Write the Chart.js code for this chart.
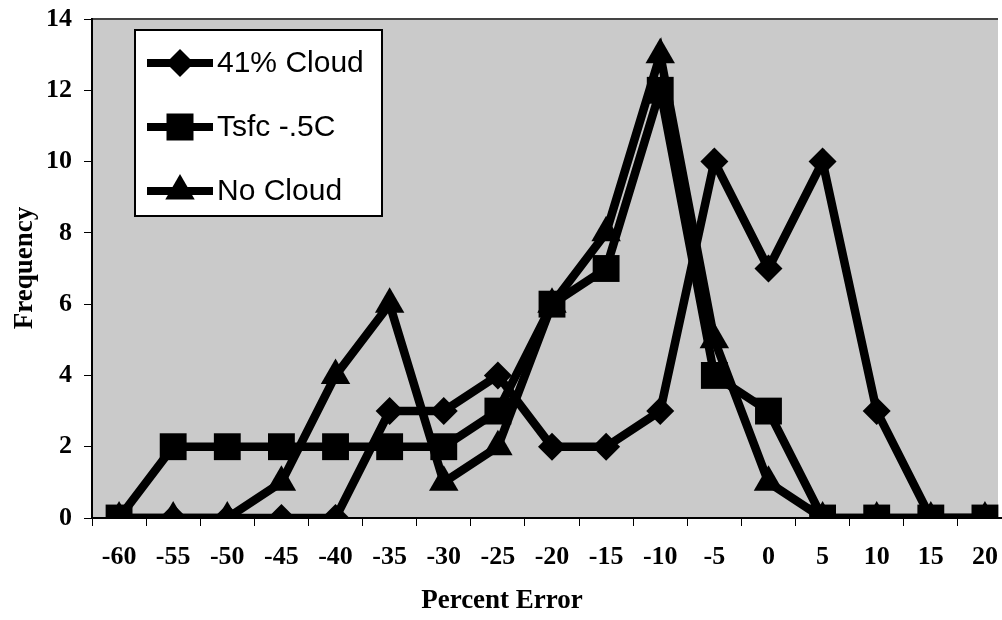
<!DOCTYPE html>
<html>
<head>
<meta charset="utf-8">
<script src="https://cdn.jsdelivr.net/npm/chart.js@4/dist/chart.umd.min.js"></script>
<style>
  html, body { margin: 0; padding: 0; background: #ffffff; overflow: hidden; }
  #wrap { width: 1002px; height: 620px; position: relative; }
  #c { display: block; }
</style>
</head>
<body>
<div id="wrap"><canvas id="c" width="1002" height="620"></canvas></div>
<script>
const categories = ['-60','-55','-50','-45','-40','-35','-30','-25','-20','-15','-10','-5','0','5','10','15','20'];
const cloud41   = [0, 0, 0, 0, 0, 3, 3, 4, 2, 2, 3, 10, 7, 10, 3, 0, 0];
const tsfc      = [0, 2, 2, 2, 2, 2, 2, 3, 6, 7, 12, 4, 3, 0, 0, 0, 0];
const noCloud   = [0, 0, 0, 1, 4, 6, 1, 2, 6, 8, 13, 5, 1, 0, 0, 0, 0];
const seriesNames = ['41% Cloud', 'Tsfc -.5C', 'No Cloud'];
const yTicks = [0, 2, 4, 6, 8, 10, 12, 14];
const xTitle = 'Percent Error';
const yTitle = 'Frequency';

const serif = '"Liberation Serif", "Times New Roman", serif';
const tickFont = { family: serif, size: 26, weight: 'bold' };

function drawMarker(ctx, style, x, y) {
  ctx.beginPath();
  if (style === 'rectRot') {
    const r = 14;
    ctx.moveTo(x, y - r); ctx.lineTo(x + r, y); ctx.lineTo(x, y + r); ctx.lineTo(x - r, y);
  } else if (style === 'rect') {
    const s = 13.5;
    ctx.rect(x - s, y - s, 2 * s, 2 * s);
  } else {
    const r = 17;
    ctx.moveTo(x, y - r);
    ctx.lineTo(x + r * Math.cos(Math.PI / 6), y + r * 0.5);
    ctx.lineTo(x - r * Math.cos(Math.PI / 6), y + r * 0.5);
  }
  ctx.closePath();
  ctx.fill();
}

// The original plot area runs past the right edge of the picture.
const areaPlugin = {
  id: 'areaPlugin',
  afterLayout(chart) {
    const a = chart.chartArea;
    a.left = 92; a.right = 1012; a.width = a.right - a.left;
    const x = chart.scales.x;
    x.left = 92; x.right = 1012; x.width = 920;
    x.configure();
  }
};

const bgPlugin = {
  id: 'bgPlugin',
  beforeDraw(chart) {
    const a = chart.chartArea;
    const ctx = chart.ctx;
    const r = Math.min(a.right, 998);
    ctx.save();
    ctx.fillStyle = '#cacaca';
    ctx.fillRect(a.left, a.top, r - a.left, a.bottom - a.top);
    ctx.strokeStyle = '#444444';
    ctx.lineWidth = 2;
    ctx.beginPath();
    ctx.moveTo(a.left, a.top);
    ctx.lineTo(r, a.top);
    ctx.stroke();
    ctx.restore();
  }
};

const titlesPlugin = {
  id: 'titles',
  afterDraw(chart) {
    const ctx = chart.ctx;
    ctx.save();
    ctx.fillStyle = '#000';
    ctx.font = 'bold 27px ' + serif;
    ctx.textAlign = 'center';
    ctx.textBaseline = 'middle';
    ctx.fillText(xTitle, 502, 601);
    ctx.translate(25, 268);
    ctx.rotate(-Math.PI / 2);
    ctx.fillText(yTitle, 0, 0);
    ctx.restore();
  }
};

const legendPlugin = {
  id: 'boxLegend',
  afterDatasetsDraw(chart) {
    const ctx = chart.ctx;
    ctx.save();
    ctx.fillStyle = '#ffffff';
    ctx.fillRect(135, 30, 247, 186);
    ctx.strokeStyle = '#000000';
    ctx.lineWidth = 2;
    ctx.strokeRect(135, 30, 247, 186);
    const ys = [63, 127, 191];
    chart.data.datasets.forEach((ds, i) => {
      const y = ys[i];
      ctx.strokeStyle = '#000';
      ctx.lineWidth = 8;
      ctx.beginPath();
      ctx.moveTo(147, y); ctx.lineTo(213, y);
      ctx.stroke();
      ctx.fillStyle = '#000';
      drawMarker(ctx, ds.pointStyle, 180, y);
      ctx.font = '30px "Liberation Sans", Arial, sans-serif';
      ctx.textBaseline = 'middle';
      ctx.textAlign = 'left';
      ctx.fillText(ds.label, 217, y + 1);
    });
    ctx.restore();
  }
};

function mkDataset(label, data, style, radius) {
  return {
    label: label,
    data: data,
    borderColor: '#000000',
    backgroundColor: '#000000',
    borderWidth: 8.5,
    pointStyle: style,
    pointRadius: radius,
    pointHoverRadius: radius,
    pointBorderWidth: 0,
    pointBackgroundColor: '#000000',
    tension: 0,
    fill: false
  };
}

new Chart(document.getElementById('c'), {
  type: 'line',
  data: {
    labels: categories,
    datasets: [
      mkDataset(seriesNames[0], cloud41, 'rectRot', 14),
      mkDataset(seriesNames[1], tsfc, 'rect', 19),
      mkDataset(seriesNames[2], noCloud, 'triangle', 17)
    ]
  },
  options: {
    responsive: false,
    maintainAspectRatio: false,
    animation: false,
    devicePixelRatio: 1,
    layout: { padding: { top: 17, right: 0, left: 0, bottom: 0 } },
    plugins: {
      legend: { display: false },
      tooltip: { enabled: false }
    },
    scales: {
      x: {
        type: 'category',
        offset: true,
        afterFit(scale) { scale.height = 102; scale.paddingLeft = 0; scale.paddingRight = 0; },
        grid: { display: true, drawOnChartArea: false, drawTicks: true, tickLength: 8, color: '#000', offset: true },
        border: { display: true, color: '#000', width: 2 },
        ticks: { color: '#000', font: tickFont, padding: 16, maxRotation: 0, autoSkip: false }
      },
      y: {
        min: 0,
        max: 14,
        afterFit(scale) { scale.width = 92; scale.paddingTop = 0; scale.paddingBottom = 0; },
        afterBuildTicks(scale) { scale.ticks = yTicks.map(v => ({ value: v })); },
        grid: { display: true, drawOnChartArea: false, drawTicks: true, tickLength: 8, color: '#000' },
        border: { display: true, color: '#000', width: 2 },
        ticks: { color: '#000', font: tickFont, padding: 12 }
      }
    }
  },
  plugins: [areaPlugin, bgPlugin, legendPlugin, titlesPlugin]
});
</script>
</body>
</html>
